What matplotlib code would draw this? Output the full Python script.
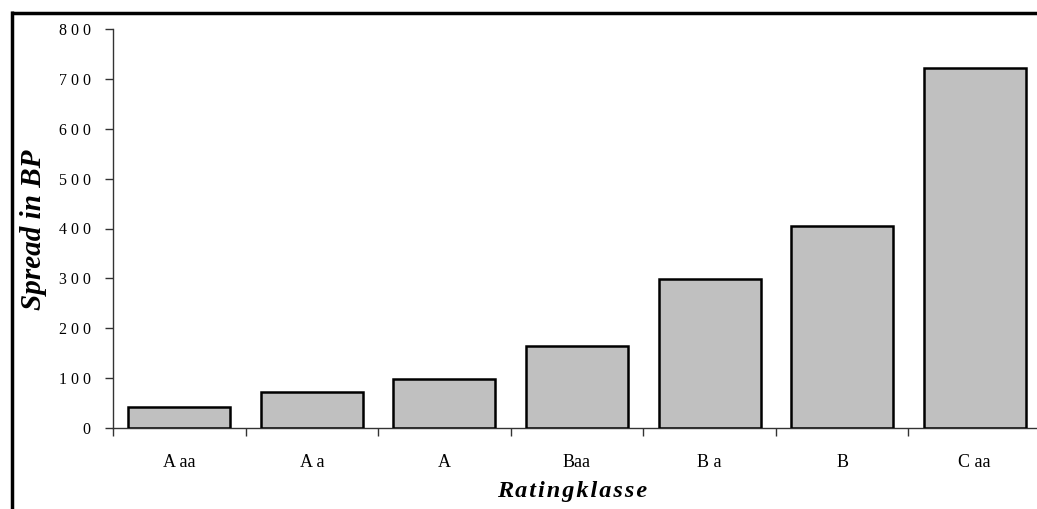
import matplotlib.pyplot as plt
from matplotlib.lines import Line2D

# Daten
klassen = ['A aa', 'A a', 'A', 'Baa', 'B a', 'B', 'C aa']
spread = [42, 72, 99, 165, 299, 405, 722]
y_ticks = [0, 100, 200, 300, 400, 500, 600, 700, 800]
y_labels = ['0', '1 0 0', '2 0 0', '3 0 0', '4 0 0', '5 0 0', '6 0 0', '7 0 0', '8 0 0']

plt.rcParams['font.family'] = ['Liberation Serif', 'DejaVu Serif']

fig = plt.figure(figsize=(10.37, 5.09), dpi=100)
ax = fig.add_axes([113 / 1037, 1 - 428 / 509, 928 / 1037, 399 / 509])

xs = range(len(klassen))
ax.bar(xs, spread, width=0.77, color='#c0c0c0', edgecolor='black', linewidth=1.8, zorder=3)

ax.set_xlim(-0.5, len(klassen) - 0.5)
ax.set_ylim(0, 800)
ax.set_yticks(y_ticks)
ax.set_yticklabels(y_labels, fontsize=11.5)

# Ticks an den Kategoriegrenzen, Labels in der Mitte
ax.set_xticks([i - 0.5 for i in range(len(klassen) + 1)])
ax.set_xticklabels([])
ax.set_xticks(list(xs), minor=True)
ax.set_xticklabels(klassen, minor=True, fontsize=13)
ax.tick_params(axis='x', which='major', length=6, width=1, color='#333333')
ax.tick_params(axis='x', which='minor', length=0, pad=19)
ax.tick_params(axis='y', length=6, width=1, color='#333333', pad=10)

for s in ['top', 'right']:
    ax.spines[s].set_visible(False)
for s in ['left', 'bottom']:
    ax.spines[s].set_color('#333333')
    ax.spines[s].set_linewidth(1)

fig.text(34 / 1037, 1 - 230 / 509, 'Spread in BP', rotation=90, ha='center', va='center',
         fontsize=21, fontweight='bold', fontstyle='italic')
fig.text(572 / 1037, 1 - 492 / 509, '\u200a'.join('Ratingklasse'), ha='center', va='center',
         fontsize=17.5, fontweight='bold', fontstyle='italic')

# Rahmen oben und links
fig.add_artist(Line2D([11 / 1037, 1.0], [1 - 12.5 / 509, 1 - 12.5 / 509], color='black',
                      linewidth=2.5, solid_capstyle='butt'))
fig.add_artist(Line2D([11.5 / 1037, 11.5 / 1037], [0, 1 - 11 / 509], color='black',
                      linewidth=2.5, solid_capstyle='butt'))

plt.savefig('out.png', dpi=100)
